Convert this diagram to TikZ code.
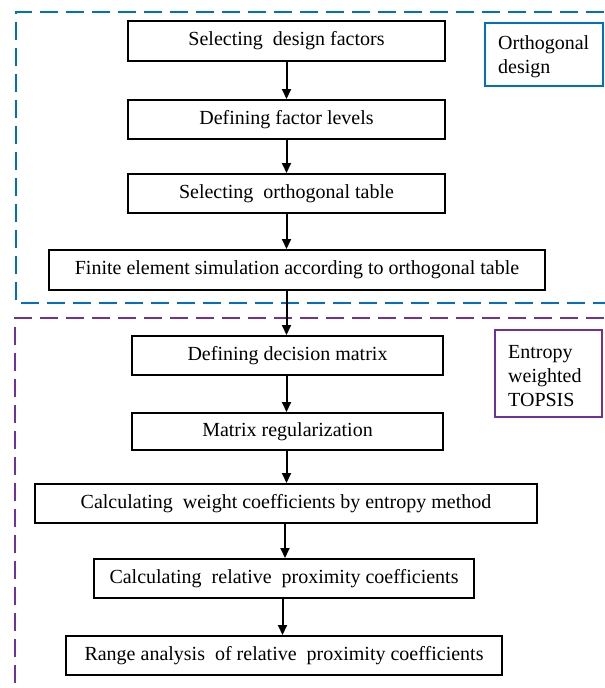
\documentclass[tikz,border=0pt]{standalone}
\usepackage{fontspec}
\setmainfont{Liberation Serif}
\usetikzlibrary{arrows.meta}
\definecolor{oblue}{HTML}{0070C0}
\definecolor{opurple}{HTML}{7030A0}
\begin{document}
\begin{tikzpicture}[x=1pt,y=-1pt,
  stepbox/.style={draw=black,line width=2pt,inner sep=0pt,font=\fontsize{20}{24}\selectfont},
  labelbox/.style={draw,line width=1.5pt,inner sep=0pt},
  labeltext/.style={font=\fontsize{20}{24}\selectfont,align=left,anchor=west,inner sep=0pt,text=black},
  flow/.style={-{Triangle[length=10pt,width=9pt]},line width=2pt},
  group/.style={line width=2.2pt,dash pattern=on 18pt off 8pt}]
\useasboundingbox (0,0) rectangle (605,688);
% group frames
\draw[group,oblue] (630,12) -- (16,12) -- (16,303) -- (630,303);
\draw[group,opurple] (630,318) -- (15,318) -- (15,700);
% label boxes
\node[labelbox,draw=oblue,minimum width=118pt,minimum height=63pt] (lab1) at (544,54.5) {};
\node[labeltext] (lab1t) at (498,57) {Orthogonal\\design};
\node[labelbox,draw=opurple,minimum width=107pt,minimum height=87pt] (lab2) at (548.5,373.5) {};
\node[labeltext] (lab2t) at (508,376) {Entropy\\weighted\\TOPSIS};
% steps
\node[stepbox,minimum width=317pt,minimum height=40pt] (s1) at (286.5,41) {Selecting\ \ design factors};
\node[stepbox,minimum width=317pt,minimum height=39pt] (s2) at (286.5,119.5) {Defining factor levels};
\node[stepbox,minimum width=317pt,minimum height=39pt] (s3) at (286.5,193.5) {Selecting\ \ orthogonal table};
\node[stepbox,minimum width=496pt,minimum height=40pt] (s4) at (297,270) {Finite element simulation according to orthogonal table};
\node[stepbox,minimum width=311pt,minimum height=39pt] (s5) at (287.5,355.5) {Defining decision matrix};
\node[stepbox,minimum width=311pt,minimum height=37pt] (s6) at (287.5,431.5) {Matrix regularization};
\node[stepbox,minimum width=502pt,minimum height=39pt] (s7) at (286,503.5) {Calculating\ \ weight coefficients by entropy method};
\node[stepbox,minimum width=380pt,minimum height=39pt] (s8) at (284,578.5) {Calculating\ \ relative\ \ proximity coefficients};
\node[stepbox,minimum width=436pt,minimum height=39pt] (s9) at (284,655.5) {Range analysis\ \ of relative\ \ proximity coefficients};
% arrow columns
\coordinate (ca) at (286.5,0);
\coordinate (cb) at (285,0);
\coordinate (cc) at (282.5,0);
% arrows
\draw[flow] (s1.south -| ca) -- (s2.north -| ca);
\draw[flow] (s2.south -| ca) -- (s3.north -| ca);
\draw[flow] (s3.south -| ca) -- (s4.north -| ca);
\draw[flow] (s4.south -| ca) -- (s5.north -| ca);
\draw[flow] (s5.south -| ca) -- (s6.north -| ca);
\draw[flow] (s6.south -| ca) -- (s7.north -| ca);
\draw[flow] (s7.south -| cb) -- (s8.north -| cb);
\draw[flow] (s8.south -| cc) -- (s9.north -| cc);
\end{tikzpicture}
\end{document}
